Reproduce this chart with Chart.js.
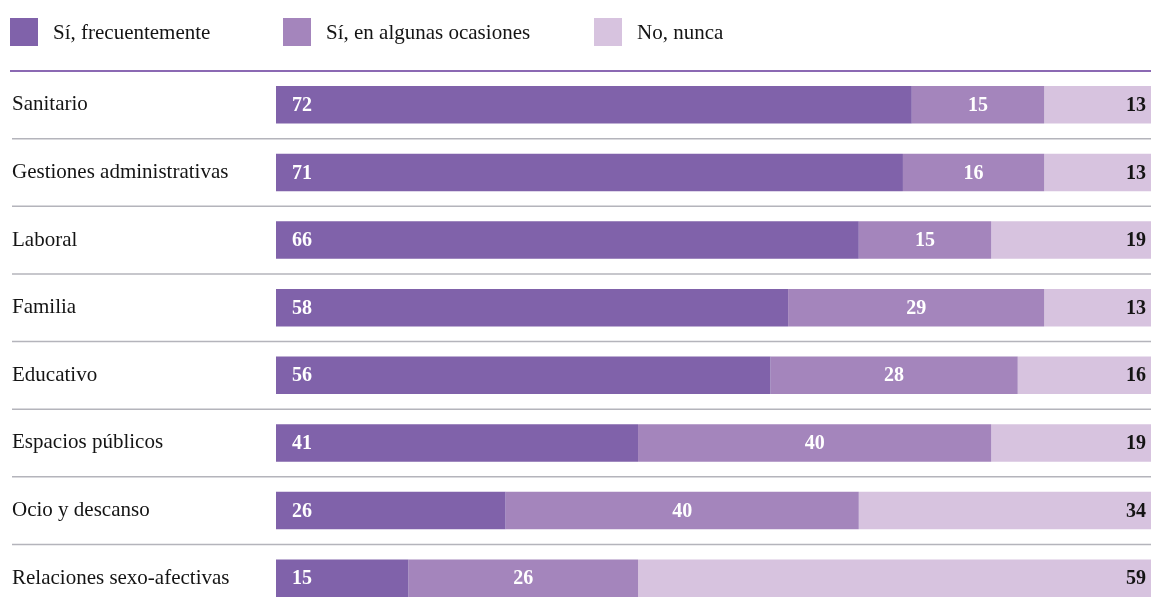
<!DOCTYPE html>
<html>
<head>
<meta charset="utf-8">
<script src="https://cdn.jsdelivr.net/npm/chart.js@4.4.1/dist/chart.umd.min.js"></script>
<style>
  html, body { margin: 0; padding: 0; width: 1151px; height: 601px; overflow: hidden; background: #fff; }
  #wrap { position: relative; width: 1151px; height: 601px; overflow: hidden; }
  #inner { position: absolute; left: 0; top: 0; width: 1160px; height: 612px; }
  #c { display: block; width: 1160px; height: 612px; }
  .leg { position: absolute; top: 18px; height: 28px; display: flex; align-items: center;
         font-family: 'Liberation Serif', 'Times New Roman', serif; font-size: 21px; color: #141414; white-space: nowrap; }
  .leg .sw { width: 28px; height: 28px; margin-right: 15px; flex: none; }
</style>
</head>
<body>
<div id="wrap">
  <div id="inner"><canvas id="c" width="1160" height="612"></canvas></div>
  <div id="legend"></div>
</div>
<script>
const categories = [
  'Sanitario',
  'Gestiones administrativas',
  'Laboral',
  'Familia',
  'Educativo',
  'Espacios públicos',
  'Ocio y descanso',
  'Relaciones sexo-afectivas'
];
const seriesNames = ['Sí, frecuentemente', 'Sí, en algunas ocasiones', 'No, nunca'];
const frecuentemente = [72, 71, 66, 58, 56, 41, 26, 15];
const algunasOcasiones = [15, 16, 15, 29, 28, 40, 40, 26];
const nunca = [13, 13, 19, 13, 16, 19, 34, 59];
const colors = ['#8062aa', '#a485bc', '#d7c3df'];
const legendX = [10, 283, 594];

const FONT = "'Liberation Serif', 'Times New Roman', serif";

// HTML legend
const legEl = document.getElementById('legend');
seriesNames.forEach((name, i) => {
  const d = document.createElement('div');
  d.className = 'leg';
  d.style.left = legendX[i] + 'px';
  d.innerHTML = '<span class="sw" style="background:' + colors[i] + '"></span><span>' + name + '</span>';
  legEl.appendChild(d);
});

const decorPlugin = {
  id: 'decor',
  beforeDatasetsDraw(chart) {
    const ctx = chart.ctx;
    const y = chart.scales.y;
    const W = chart.width;
    ctx.save();
    ctx.strokeStyle = '#8b69b3';
    ctx.lineWidth = 2;
    ctx.beginPath();
    ctx.moveTo(10, chart.chartArea.top);
    ctx.lineTo(W, chart.chartArea.top);
    ctx.stroke();
    ctx.strokeStyle = '#b4b4bb';
    ctx.lineWidth = 1.5;
    for (let i = 0; i < categories.length - 1; i++) {
      const yy = (y.getPixelForValue(i) + y.getPixelForValue(i + 1)) / 2;
      ctx.beginPath();
      ctx.moveTo(12, yy);
      ctx.lineTo(W, yy);
      ctx.stroke();
    }
    ctx.restore();
  },
  afterDatasetsDraw(chart) {
    const ctx = chart.ctx;
    ctx.save();
    ctx.font = 'bold 20px ' + FONT;
    ctx.textBaseline = 'middle';
    chart.data.datasets.forEach((ds, di) => {
      const meta = chart.getDatasetMeta(di);
      meta.data.forEach((el, i) => {
        const v = ds.data[i];
        const left = Math.min(el.x, el.base);
        const right = Math.max(el.x, el.base);
        let x;
        if (di === 0) { ctx.textAlign = 'left'; x = left + 16; ctx.fillStyle = '#ffffff'; }
        else if (di === 1) { ctx.textAlign = 'center'; x = (left + right) / 2; ctx.fillStyle = '#ffffff'; }
        else { ctx.textAlign = 'right'; x = right - 13; ctx.fillStyle = '#141414'; }
        ctx.fillText(String(v), x, el.y + 1);
      });
    });
    ctx.restore();
  }
};

new Chart(document.getElementById('c'), {
  type: 'bar',
  data: {
    labels: categories,
    datasets: [
      { label: seriesNames[0], data: frecuentemente, backgroundColor: colors[0] },
      { label: seriesNames[1], data: algunasOcasiones, backgroundColor: colors[1] },
      { label: seriesNames[2], data: nunca, backgroundColor: colors[2] }
    ]
  },
  options: {
    indexAxis: 'y',
    responsive: false,
    maintainAspectRatio: false,
    animation: false,
    events: [],
    layout: { padding: { left: 12, top: 71, right: 1, bottom: 0 } },
    datasets: { bar: { categoryPercentage: 1, barPercentage: 0.555, borderWidth: 0 } },
    plugins: { legend: { display: false }, tooltip: { enabled: false } },
    scales: {
      x: { stacked: true, min: 0, max: 100, display: false },
      y: {
        stacked: true,
        grid: { display: false },
        border: { display: false },
        afterFit(scale) { scale.width = 264; scale.paddingTop = 0; scale.paddingBottom = 0; },
        ticks: {
          crossAlign: 'far',
          color: '#141414',
          font: { family: FONT, size: 21 }
        }
      }
    }
  },
  plugins: [decorPlugin]
});
</script>
</body>
</html>
